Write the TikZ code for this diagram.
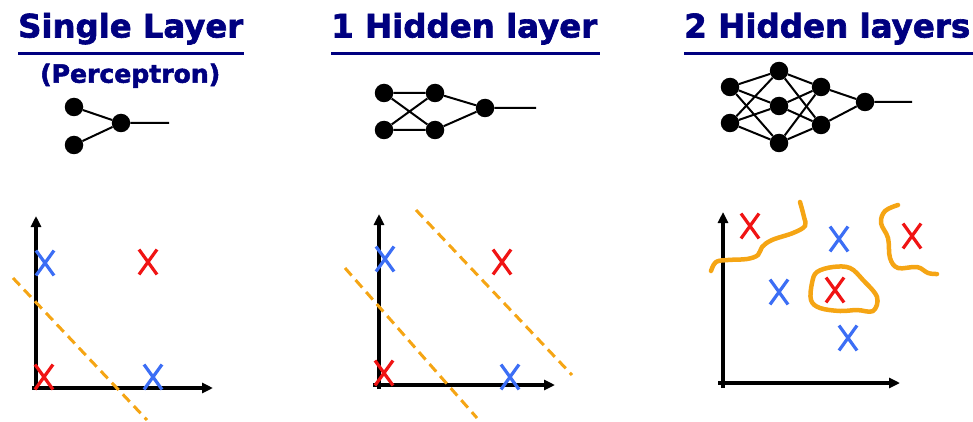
\documentclass[tikz,border=0pt]{standalone}
\usepackage{fontspec}
\setmainfont{DejaVu Sans}
\newfontfamily\ttlfont[FakeBold=2]{DejaVu Sans Bold}
\usetikzlibrary{arrows.meta}
\definecolor{navy}{RGB}{0,0,128}
\definecolor{xblue}{RGB}{60,110,245}
\definecolor{xred}{RGB}{240,20,20}
\definecolor{orng}{RGB}{245,165,20}
\tikzset{
  title/.style={anchor=base west, inner sep=0pt, text=navy, font=\ttlfont\fontsize{34}{40}\selectfont},
  subtitle/.style={anchor=base west, inner sep=0pt, text=navy, font=\ttlfont\fontsize{23.5}{28}\selectfont},
  uline/.style={draw=navy, line width=2.6pt},
  neuron/.style={circle, fill=black, minimum size=18.5pt, inner sep=0pt},
  wire/.style={draw=black, line width=2pt},
  axis/.style={draw=black, line width=3.2pt, -{Triangle[length=11pt,width=10pt]}},
  sep/.style={draw=orng, line width=3pt, dash pattern=on 10pt off 6pt},
  bound/.style={draw=orng, line width=4.5pt, line cap=round, line join=round},
  xm/.pic={\draw[line width=3.2pt] (-9,-12.5)--(9,12.5) (-9,12.5)--(9,-12.5);}
}
\begin{document}
\begin{tikzpicture}[x=1pt,y=-1pt]
\useasboundingbox (0,0) rectangle (973,422);
% titles
\node[title] (t1) at (18,37.5) {\resizebox{225pt}{!}{Single Layer}};
\draw[uline] (18,53.5) -- (244,53.5);
\node[subtitle] (t1b) at (40,82.7) {\resizebox{180pt}{!}{(Perceptron)}};
\node[title] (t2) at (331,37.5) {\resizebox{266pt}{!}{1 Hidden layer}};
\draw[uline] (331,53.5) -- (600,53.5);
\node[title] (t3) at (684,37.5) {\resizebox{286pt}{!}{2 Hidden layers}};
\draw[uline] (684,53.5) -- (973,53.5);

% network 1
\node[neuron] (a1) at (74,107) {};
\node[neuron] (a2) at (74,145) {};
\node[neuron] (ao) at (121,123) {};
\coordinate (ae) at (169,123);
\draw[wire] (a1) -- (ao) (a2) -- (ao) (ao) -- (ae);

% network 2
\node[neuron] (b1) at (384,93) {};
\node[neuron] (b2) at (384,130) {};
\node[neuron] (h1) at (435,93) {};
\node[neuron] (h2) at (435,130) {};
\node[neuron] (bo) at (485,108) {};
\coordinate (be) at (536,108);
\draw[wire] (b1) -- (h1) (b1) -- (h2) (b2) -- (h1) (b2) -- (h2)
  (h1) -- (bo) (h2) -- (bo) (bo) -- (be);

% network 3
\node[neuron] (c1) at (730,87) {};
\node[neuron] (c2) at (730,123) {};
\node[neuron] (p1) at (779,71) {};
\node[neuron] (p2) at (779,106) {};
\node[neuron] (p3) at (779,143) {};
\node[neuron] (q1) at (821,87) {};
\node[neuron] (q2) at (821,125) {};
\node[neuron] (co) at (865,102) {};
\coordinate (ce) at (912,102);
\foreach \i in {c1,c2}{\foreach \j in {p1,p2,p3}{\draw[wire] (\i) -- (\j);}}
\foreach \i in {p1,p2,p3}{\foreach \j in {q1,q2}{\draw[wire] (\i) -- (\j);}}
\draw[wire] (q1) -- (co) (q2) -- (co) (co) -- (ce);

% plot 1
\coordinate (o1y) at (36,390); \coordinate (y1) at (36,216);
\coordinate (o1x) at (32,388); \coordinate (x1) at (213,388);
\draw[axis] (o1y) -- (y1);
\draw[axis] (o1x) -- (x1);
\coordinate (s1a) at (13,278); \coordinate (s1b) at (147,420);
\draw[sep] (s1a) -- (s1b);
\pic[draw=xblue] at (45,263) {xm};
\pic[draw=xred] at (148,262) {xm};
\pic[draw=xred] at (44,377) {xm};
\pic[draw=xblue] at (153,377) {xm};

% plot 2
\coordinate (o2y) at (379,389); \coordinate (y2) at (379,214);
\coordinate (o2x) at (373,385); \coordinate (x2) at (555,385);
\draw[axis] (o2y) -- (y2);
\draw[axis] (o2x) -- (x2);
\coordinate (s2a) at (345,268); \coordinate (s2b) at (477,418);
\coordinate (s2c) at (416,210); \coordinate (s2d) at (572,375);
\draw[sep] (s2a) -- (s2b);
\draw[sep] (s2c) -- (s2d);
\pic[draw=xblue] at (385,259) {xm};
\pic[draw=xred] at (502,262) {xm};
\pic[draw=xred] at (384,373) {xm};
\pic[draw=xblue] at (510,377) {xm};

% plot 3
\coordinate (o3y) at (723,388); \coordinate (y3) at (723,212);
\coordinate (o3x) at (718,383); \coordinate (x3) at (900,383);
\draw[axis] (o3y) -- (y3);
\draw[axis] (o3x) -- (x3);
\draw[bound] plot[smooth, tension=0.6] coordinates {(711,271) (716,262) (728,260) (747,259) (758,255) (762,247) (772,240) (793,233) (805,226) (804,217) (800,202)};
\draw[bound] plot[smooth, tension=0.6] coordinates {(898,205) (885,211) (881,223) (888,238) (890,258) (898,268) (917,267) (928,273) (937,274)};
\draw[bound] plot[smooth cycle, tension=0.6] coordinates {(817,272) (833,267) (850,268) (863,280) (877,297) (873,311) (857,310) (840,311) (820,308) (811,300) (812,283)};
\pic[draw=xred] at (750,226) {xm};
\pic[draw=xblue] at (839,239) {xm};
\pic[draw=xred] at (912,236) {xm};
\pic[draw=xblue] at (779,292) {xm};
\pic[draw=xred] at (835,290) {xm};
\pic[draw=xblue] at (848,338) {xm};
\end{tikzpicture}
\end{document}
